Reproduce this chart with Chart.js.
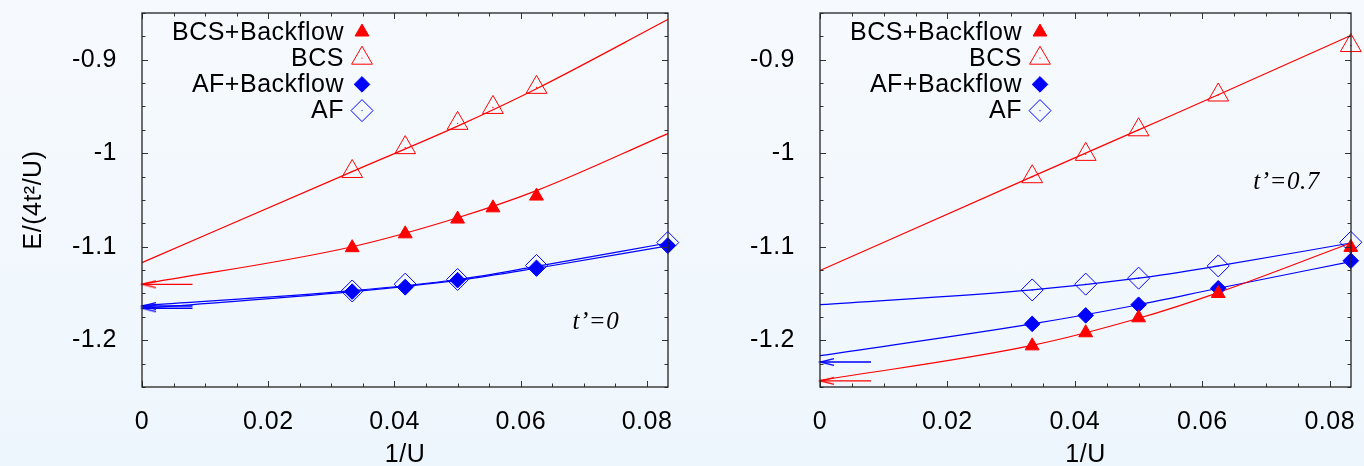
<!DOCTYPE html>
<html>
<head>
<meta charset="utf-8">
<script src="https://cdn.jsdelivr.net/npm/chart.js@4.4.0/dist/chart.umd.min.js"></script>
<style>
  html, body { margin: 0; padding: 0; }
  body {
    width: 1364px; height: 466px; overflow: hidden; position: relative;
    background: linear-gradient(to bottom, #f6fafe 0%, #eef6fd 100%);
  }
  .panel { position: absolute; top: 0; width: 682px; height: 466px; }
</style>
</head>
<body>
<div class="panel" style="left:0"><canvas id="left" width="682" height="466"></canvas></div>
<div class="panel" style="left:682px"><canvas id="right" width="682" height="466"></canvas></div>
<script>
// axes
const xTicks = [0, 0.02, 0.04, 0.06, 0.08];
const xTickLabels = ['0', '0.02', '0.04', '0.06', '0.08'];
const yTicks = [-1.2, -1.1, -1, -0.9];
const yTickLabels = ['-1.2', '-1.1', '-1', '-0.9'];
const xMax = 1 / 12;
const yMin = -1.25, yMax = -0.85;
const seriesNames = ['BCS+Backflow', 'BCS', 'AF+Backflow', 'AF'];

// 1/U of the computed points
const invU = [0.0333, 0.0417, 0.05, 0.0625, 0.0833];
const invUBcs0 = [0.0333, 0.0417, 0.05, 0.0556, 0.0625];
const fitX = [0, 0.0333, 0.05, 0.0625, 0.0833];
const arrowLen = 0.008;

// t'=0
const bcsBf0 = [-1.101, -1.0862, -1.0704, -1.0584, -1.0458];
const bcs0 = [-1.0195, -0.994, -0.968, -0.951, -0.9295];
const afBf0 = [-1.148, -1.143, -1.1357, -1.1226, -1.0986];
const af0 = [-1.1473, -1.140, -1.135, -1.120, -1.0955];
const bcsBfFit0 = [-1.140, -1.100, -1.069, -1.040, -0.979];
const bcsFit0 = [-1.117, -1.0196, -0.971, -0.931, -0.857];
const afBfFit0 = [-1.166, -1.148, -1.136, -1.123, -1.099];
const afFit0 = [-1.163, -1.147, -1.135, -1.121, -1.096];
const arrowRed0 = [-1.1402];
const arrowBlue0 = [-1.1634, -1.1658];
const note0 = { text: 't\u2019=0', x: 0.0719, y: -1.181 };

// t'=0.7
const bcsBf7 = [-1.206, -1.192, -1.176, -1.150, -1.1007];
const bcs7 = [-1.0251, -1.0012, -0.9749, -0.9377, -0.8848];
const afBf7 = [-1.1825, -1.1734, -1.162, -1.1444, -1.115];
const af7 = [-1.1462, -1.140, -1.1336, -1.1205, -1.0952];
const bcsBfFit7 = [-1.243, -1.2055, -1.1765, -1.149, -1.096];
const bcsFit7 = [-1.1254, -1.025, -0.975, -0.9375, -0.874];
const afBfFit7 = [-1.2165, -1.1825, -1.162, -1.1444, -1.116];
const afFit7 = [-1.162, -1.1462, -1.1336, -1.1205, -1.096];
const arrowRed7 = [-1.2434];
const arrowBlue7 = [-1.2233];
const note7 = { text: 't\u2019=0.7', x: 0.0732, y: -1.031 };

const RED = '#ff0000', BLUE = '#0000ff';
const FONT = "'Liberation Sans', Arial, sans-serif";
Chart.defaults.font.family = FONT;
Chart.defaults.font.size = 25;
Chart.defaults.color = '#000';

const pts = (xs, ys) => xs.map((x, i) => ({ x: x, y: ys[i] }));

function arrowHead(color) {
  const c = document.createElement('canvas');
  c.width = 30; c.height = 10;
  const g = c.getContext('2d');
  g.strokeStyle = color; g.lineWidth = 1.4;
  g.beginPath(); g.moveTo(29, 1.6); g.lineTo(15.5, 5); g.lineTo(29, 8.4); g.stroke();
  return c;
}

function markerSet(label, xs, ys, style, radius, color, filled) {
  return {
    label: label, data: pts(xs, ys), showLine: false, inLegend: true, open: !filled,
    pointStyle: style, pointRadius: radius, pointHoverRadius: radius,
    pointBorderWidth: 1, pointBorderColor: color,
    pointBackgroundColor: filled ? color : 'rgba(0,0,0,0)',
    borderColor: color, backgroundColor: filled ? color : 'rgba(0,0,0,0)',
    clip: false
  };
}
// the tiny dot gnuplot puts in the middle of open symbols
function dotSet(xs, ys, color) {
  return {
    data: pts(xs, ys), showLine: false, pointStyle: 'circle', pointRadius: 0.7,
    pointBorderWidth: 0, pointBackgroundColor: color, clip: false
  };
}
function fitSet(ys, color) {
  return {
    data: pts(fitX, ys), showLine: true, borderColor: color, borderWidth: 1.2,
    pointRadius: 0, cubicInterpolationMode: 'monotone', fill: false, clip: false
  };
}
function arrowSet(y, color) {
  return {
    data: [{ x: arrowLen, y: y }, { x: 0, y: y }], showLine: true,
    borderColor: color, borderWidth: 1.4, pointRadius: [0, 5],
    pointStyle: arrowHead(color), fill: false, clip: false
  };
}

const spacing = {
  id: 'spacing',
  beforeUpdate(chart) { chart.ctx.letterSpacing = '0.5px'; },
  beforeDraw(chart) { chart.ctx.letterSpacing = '0.5px'; }
};

const frame = {
  id: 'frame',
  afterDatasetsDraw(chart) {
    const { ctx, chartArea: a, scales: { x, y } } = chart;
    ctx.save();
    ctx.strokeStyle = '#333'; ctx.lineWidth = 1;
    ctx.beginPath();
    for (let k = 0; k * 0.005 <= x.max + 1e-9; k++) {
      const v = k * 0.005;
      const len = xTicks.some(t => Math.abs(t - v) < 1e-9) ? 6 : 3.5;
      const px = Math.round(x.getPixelForValue(v)) + 0.5;
      ctx.moveTo(px, a.bottom); ctx.lineTo(px, a.bottom - len);
      ctx.moveTo(px, a.top); ctx.lineTo(px, a.top + len);
    }
    for (let k = 0; yMin + k * 0.025 <= yMax + 1e-9; k++) {
      const v = yMin + k * 0.025;
      const len = yTicks.some(t => Math.abs(t - v) < 1e-9) ? 6 : 3.5;
      const py = Math.round(y.getPixelForValue(v)) + 0.5;
      ctx.moveTo(a.left, py); ctx.lineTo(a.left + len, py);
      ctx.moveTo(a.right, py); ctx.lineTo(a.right - len, py);
    }
    ctx.stroke();
    ctx.strokeStyle = '#222'; ctx.lineWidth = 1.3;
    ctx.strokeRect(a.left, a.top, a.right - a.left, a.bottom - a.top);
    ctx.restore();
  }
};

const keyBox = {
  id: 'keyBox',
  afterDatasetsDraw(chart) {
    const { ctx, chartArea: a } = chart;
    ctx.save();
    ctx.font = '25px ' + FONT;
    ctx.textAlign = 'right'; ctx.textBaseline = 'middle';
    let row = 0;
    chart.data.datasets.forEach(ds => {
      if (!ds.inLegend) return;
      const yy = a.top + 19 + row * 26.2;
      const mx = a.left + 220;
      ctx.fillStyle = '#000';
      ctx.fillText(ds.label, a.left + 202, yy + 1);
      ctx.fillStyle = ds.pointBackgroundColor;
      ctx.strokeStyle = ds.pointBorderColor; ctx.lineWidth = 1;
      Chart.helpers.drawPoint(ctx, { pointStyle: ds.pointStyle, radius: ds.pointRadius, borderWidth: 1, rotation: 0 }, mx, yy);
      if (ds.open) {
        ctx.fillStyle = ds.pointBorderColor;
        ctx.fillRect(mx - 0.5, yy - 0.5, 1, 1);
      }
      row++;
    });
    ctx.restore();
  }
};

const noteText = {
  id: 'noteText',
  afterDatasetsDraw(chart, args, opts) {
    const { ctx, scales: { x, y } } = chart;
    ctx.save();
    ctx.font = "italic 25px 'Liberation Serif', 'Times New Roman', serif";
    ctx.fillStyle = '#000'; ctx.textAlign = 'center'; ctx.textBaseline = 'middle';
    ctx.fillText(opts.text, x.getPixelForValue(opts.x), y.getPixelForValue(opts.y));
    ctx.restore();
  }
};

function makePanel(id, p) {
  new Chart(document.getElementById(id), {
    type: 'scatter',
    data: {
      datasets: [
        markerSet(seriesNames[0], p.bcsX, p.bcsBf, 'triangle', 8, RED, true),
        markerSet(seriesNames[1], p.bcsX, p.bcs, 'triangle', 12, RED, false),
        markerSet(seriesNames[2], invU, p.afBf, 'rectRot', 7.8, BLUE, true),
        markerSet(seriesNames[3], invU, p.af, 'rectRot', 11, BLUE, false),
        dotSet(p.bcsX, p.bcs, RED),
        dotSet(invU, p.af, BLUE),
        fitSet(p.bcsBfFit, RED),
        fitSet(p.bcsFit, RED),
        fitSet(p.afBfFit, BLUE),
        fitSet(p.afFit, BLUE)
      ].concat(p.arrowRed.map(v => arrowSet(v, RED)), p.arrowBlue.map(v => arrowSet(v, BLUE)))
    },
    options: {
      responsive: false, animation: false, devicePixelRatio: 1,
      layout: { padding: { top: 9, right: p.padRight, left: 0, bottom: 0 } },
      plugins: { legend: { display: false }, tooltip: { enabled: false }, noteText: p.note },
      scales: {
        x: {
          type: 'linear', min: 0, max: xMax,
          afterBuildTicks: s => { s.ticks = xTicks.map(v => ({ value: v })); },
          afterFit: s => { s.height = 79; s.paddingLeft = 0; s.paddingRight = 0; },
          grid: { display: false }, border: { display: false },
          ticks: { padding: 12, autoSkip: false, maxRotation: 0, color: '#000', callback: (v, i) => xTickLabels[i] },
          title: { display: true, text: '1/U', color: '#000', padding: { top: 0, bottom: -4 } }
        },
        y: {
          type: 'linear', min: yMin, max: yMax,
          afterBuildTicks: s => { s.ticks = yTicks.map(v => ({ value: v })); },
          afterFit: s => { s.width = p.yWidth; s.paddingTop = 0; s.paddingBottom = 0; },
          grid: { display: false }, border: { display: false },
          ticks: { padding: 17, autoSkip: false, color: '#000', callback: (v, i) => yTickLabels[i] },
          title: { display: p.yTitle, text: 'E/(4t\u00b2/U)', color: '#000', padding: { top: 19, bottom: 0 } }
        }
      }
    },
    plugins: [spacing, frame, keyBox, noteText]
  });
}

makePanel('left', {
  bcsX: invUBcs0, bcsBf: bcsBf0, bcs: bcs0, afBf: afBf0, af: af0,
  bcsBfFit: bcsBfFit0, bcsFit: bcsFit0, afBfFit: afBfFit0, afFit: afFit0,
  arrowRed: arrowRed0, arrowBlue: arrowBlue0, note: note0,
  padRight: 14, yWidth: 142, yTitle: true
});
makePanel('right', {
  bcsX: invU, bcsBf: bcsBf7, bcs: bcs7, afBf: afBf7, af: af7,
  bcsBfFit: bcsBfFit7, bcsFit: bcsFit7, afBfFit: afBfFit7, afFit: afFit7,
  arrowRed: arrowRed7, arrowBlue: arrowBlue7, note: note7,
  padRight: 6, yWidth: 138, yTitle: false
});
</script>
</body>
</html>
